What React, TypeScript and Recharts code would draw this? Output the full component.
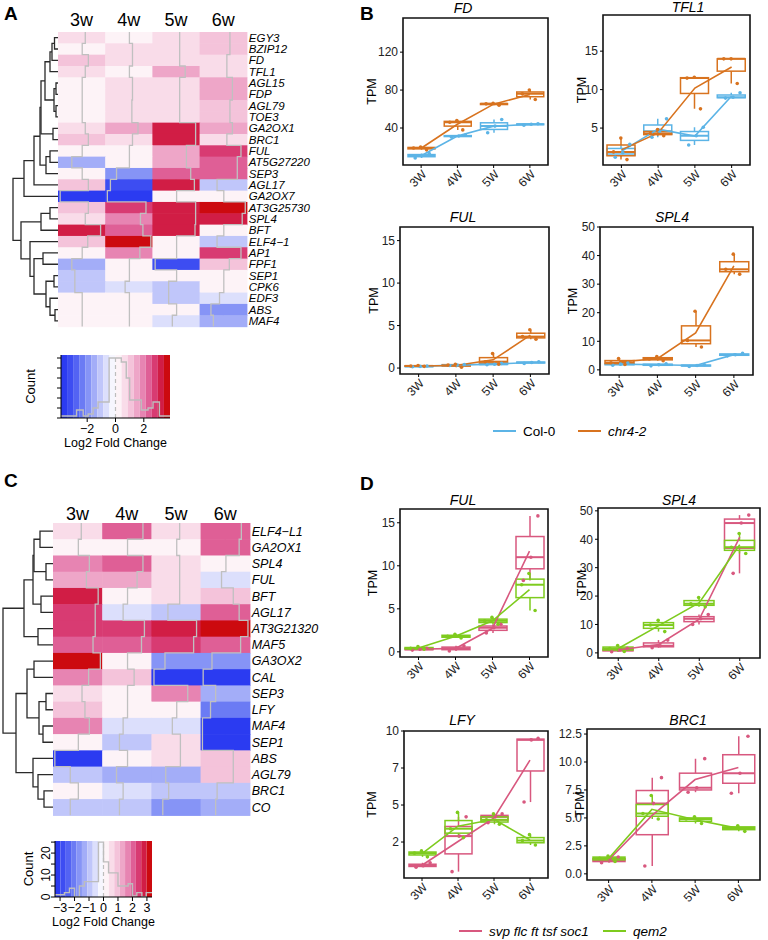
import React from 'react';
import {
  ComposedChart, ScatterChart, Scatter, Bar, Line, XAxis, YAxis, ReferenceLine, ReferenceArea,
} from 'recharts';

const WEEKS = ['3W', '4W', '5W', '6W'];
const HEAT_COLS = ['3w', '4w', '5w', '6w'];

// ---- panel A: chr4-2 vs Col-0, log2 fold change
const GENES_A = [
  'EGY3', 'BZIP12', 'FD', 'TFL1', 'AGL15', 'FDP', 'AGL79', 'TOE3', 'GA2OX1', 'BRC1',
  'FUL', 'AT5G27220', 'SEP3', 'AGL17', 'GA2OX7', 'AT3G25730', 'SPL4', 'BFT', 'ELF4\u22121',
  'AP1', 'FPF1', 'SEP1', 'CPK6', 'EDF3', 'ABS', 'MAF4',
];
const LFC_A = [
  [0.6, 0.1, 0.6, 1.1], [0.1, 0.6, 0.6, 1.1], [1.1, 0.6, 0.6, 0.6], [0.6, 0.1, 1.5, 0.6],
  [0.1, 0.6, 0.6, 1.5], [0.1, 0.6, 0.6, 1.5], [0.1, 0.5, 0.6, 1.1], [0.1, 0.5, 0.6, 1.1],
  [0.6, 1.5, 3.2, 1.5], [1.1, 0.6, 3.2, 0.6], [0.1, 0.1, 1.7, 2.9], [-1.6, 0.1, 1.7, 2.3],
  [0.1, -2.0, 2.4, 2.3], [1.1, -3.0, 3.0, -1.0], [-3.5, -3.5, 0.1, 0.1], [1.1, 2.8, 3.2, 3.6],
  [0.6, 1.9, 3.2, 3.1], [3.1, 2.3, 3.1, 0.1], [1.0, 3.6, 0.1, -1.0], [0.1, 1.8, 0.1, 2.9],
  [-1.6, 0.1, -3.4, 1.0], [-1.1, 0.1, 0.1, 0.1], [-1.1, -0.6, -1.2, 0.1], [0.1, 0.1, -1.2, -0.6],
  [0.1, 0.1, 0.1, -2.0], [0.1, 0.1, -0.6, -1.6],
];
// merges: [left, right, height]; strings are genes, numbers are earlier merges
const DEND_A: [string | number, string | number, number][] = [
  ['EGY3', 'BZIP12', 3.5], [0, 'FD', 6], [1, 'TFL1', 8], ['AGL15', 'FDP', 2], ['AGL79', 'TOE3', 2],
  [3, 4, 4], [2, 5, 13], ['GA2OX1', 'BRC1', 5], [6, 7, 17], ['FUL', 'AT5G27220', 8],
  [9, 'SEP3', 12], [8, 10, 18], [11, 'AGL17', 24], [12, 'GA2OX7', 34], ['AT3G25730', 'SPL4', 8],
  [14, 'BFT', 17], ['AP1', 'FPF1', 15], ['SEP1', 'CPK6', 4], ['ABS', 'MAF4', 3], ['EDF3', 18, 8],
  [17, 19, 12], [16, 20, 24], ['ELF4\u22121', 21, 28], [15, 22, 37], [13, 23, 45],
];
const HIST_A_EDGES = [-3.85, -2.75, -2.28, -1.93, -1.58, -1.23, -0.45, 0.41, 0.76, 1.0, 1.82, 2.3, 2.65, 3.1, 3.85];
const HIST_A_COUNTS = [1, 4, 1, 2, 5, 8, 30, 28, 20, 9, 4, 5, 8, 1];

// ---- panel C: svp flc ft tsf soc1 vs qem2
const GENES_C = [
  'ELF4\u2212L1', 'GA2OX1', 'SPL4', 'FUL', 'BFT', 'AGL17', 'AT3G21320', 'MAF5', 'GA3OX2',
  'CAL', 'SEP3', 'LFY', 'MAF4', 'SEP1', 'ABS', 'AGL79', 'BRC1', 'CO',
];
const LFC_C = [
  [0.5, 2.2, 0.5, 2.2], [0.1, 0.1, 0.1, 1.9], [1.6, 2.2, 0.5, 0.1], [1.2, 1.4, 0.5, -0.5],
  [2.8, 0.1, 0.5, 1.1], [2.4, -0.5, -1.1, 1.9], [2.4, 2.4, 2.8, 3.1], [2.1, 2.0, 2.4, 2.1],
  [3.1, 0.1, -1.5, -1.8], [1.5, 1.0, -3.0, -3.0], [0.6, 0.1, 1.6, -1.3], [1.0, 0.1, 0.1, -2.0],
  [1.6, -0.5, -0.5, -3.1], [0.1, -1.0, 0.6, -3.1], [-3.1, 0.1, 0.6, 1.1], [-1.0, -1.4, -1.4, 1.1],
  [0.1, -0.5, -1.0, -1.1], [-1.0, -1.0, -1.8, -1.3],
];
const DEND_C: [string | number, string | number, number][] = [
  ['ELF4\u2212L1', 'GA2OX1', 13], ['SPL4', 'FUL', 7], [0, 1, 19], ['BFT', 'AGL17', 12], [2, 3, 20],
  ['AT3G21320', 'MAF5', 15], [4, 5, 29], ['GA3OX2', 'CAL', 19], ['SEP3', 'LFY', 7], ['MAF4', 'SEP1', 10],
  [8, 9, 14], [7, 10, 26], ['BRC1', 'CO', 9], ['AGL79', 12, 15], ['ABS', 13, 20], [11, 14, 37], [6, 15, 50],
];
const HIST_C_EDGES = [-3.35, -3.05, -2.7, -2.35, -2.0, -1.66, -1.32, -0.35, 0, 0.35, 1.0, 1.4, 1.7, 2.0, 2.3, 2.65, 2.95, 3.35];
const HIST_C_COUNTS = [1, 1, 2, 4, 0, 5, 7, 25, 16, 11, 5, 5, 6, 0.5, 2, 0, 2];

// ---- panel B: TPM, three replicates per week
const B_FD_COL = [[8.5, 11, 13], [30.5, 31.5, 32.5], [35, 42, 49], [43, 44, 44.5]];
const B_FD_CHR = [[17, 19, 20], [38, 46, 48], [64, 65.5, 66], [70, 76, 80]];
const B_TFL1_COL = [[1.2, 1.8, 2.9], [3.8, 4.6, 6.2], [2.8, 4.0, 5.1], [8.9, 9.0, 9.6]];
const B_TFL1_CHR = [[0.9, 1.9, 3.7], [4.0, 4.3, 4.8], [7.5, 11.5, 11.6], [10.8, 14.0, 14.0]];
const B_FUL_COL = [[0.15, 0.2, 0.25], [0.3, 0.35, 0.4], [0.4, 0.45, 0.55], [0.55, 0.65, 0.75]];
const B_FUL_CHR = [[0.2, 0.25, 0.3], [0.1, 0.35, 0.45], [0.45, 0.75, 1.7], [3.4, 3.7, 4.5]];
const B_SPL4_COL = [[1.6, 2.0, 2.4], [1.4, 1.8, 2.1], [1.2, 1.5, 1.8], [4.9, 5.3, 5.8]];
const B_SPL4_CHR = [[1.9, 2.5, 4.0], [3.2, 3.8, 4.7], [8.0, 10.3, 20.5], [33.5, 35.2, 40.5]];

// ---- panel D
const D_FUL_SVP = [[0.2, 0.3, 0.4], [0.1, 0.4, 0.7], [2.2, 2.8, 3.2], [8.3, 11.0, 15.8]];
const D_FUL_QEM = [[0.3, 0.4, 0.6], [1.6, 1.8, 2.05], [3.2, 3.6, 4.0], [4.8, 7.8, 9.1]];
const D_SPL4_SVP = [[0.4, 1.0, 1.6], [1.8, 2.5, 4.5], [10.0, 12.0, 13.5], [28.0, 45.7, 48.5]];
const D_SPL4_QEM = [[0.5, 1.5, 2.6], [7.5, 9.8, 11.5], [16.2, 17.3, 19.5], [35.0, 37.2, 42.0]];
const D_LFY_SVP = [[0.8, 0.9, 1.1], [0.5, 2.9, 4.2], [3.8, 4.2, 4.4], [5.2, 9.4, 9.5]];
const D_LFY_QEM = [[1.5, 1.75, 1.9], [2.8, 3.4, 4.5], [3.7, 4.0, 4.4], [2.3, 2.6, 3.0]];
const D_BRC1_SVP = [[1.0, 1.2, 1.5], [0.7, 6.3, 8.6], [7.3, 7.7, 10.3], [7.2, 9.0, 12.3]];
const D_BRC1_QEM = [[1.1, 1.4, 1.6], [4.9, 5.4, 7.0], [4.5, 4.9, 5.1], [3.8, 4.1, 4.3]];

const KEY_COLORS = [
  '#2b3bf1', '#3d4df2', '#5363f3', '#6b7bf4', '#8694f6', '#a3adf8', '#c0c6fa', '#dcdffc', '#f6f6fe',
  '#fdf3f7', '#f9dce9', '#f4c3da', '#eea6c8', '#e784b2', '#df5f96', '#d83b72', '#d11d45', '#cc0a0f',
];
const COL0 = '#5cb4e6';
const CHR = '#d8731f';
const SVP = '#d8587f';
const QEM = '#7ecb1e';
const FONT = '"Liberation Sans", Arial, Helvetica, sans-serif';

const colorFor = (v: number, bmax: number) => {
  const i = Math.floor(((v + bmax) / (2 * bmax)) * KEY_COLORS.length);
  return KEY_COLORS[Math.max(0, Math.min(KEY_COLORS.length - 1, i))];
};

const quant = (s: number[], p: number) => {
  const h = (s.length - 1) * p;
  const lo = Math.floor(h);
  const hi = Math.min(lo + 1, s.length - 1);
  return s[lo] + (h - lo) * (s[hi] - s[lo]);
};

const boxStats = (pts: number[]) => {
  const s = [...pts].sort((a, b) => a - b);
  const q1 = quant(s, 0.25), md = quant(s, 0.5), q3 = quant(s, 0.75);
  const iqr = q3 - q1;
  const lo = Math.min(...s.filter((v) => v >= q1 - 1.5 * iqr));
  const hi = Math.max(...s.filter((v) => v <= q3 + 1.5 * iqr));
  return [lo, q1, md, q3, hi];
};

const mean = (a: number[]) => a.reduce((s, v) => s + v, 0) / a.length;

const buildDend = (merges: [string | number, string | number, number][], genes: string[]) => {
  const pos: { y: number; h: number }[] = [];
  const ref = (r: string | number) => (typeof r === 'string' ? { y: genes.indexOf(r), h: 0 } : pos[r]);
  return merges.map(([l, r, h], i) => {
    const a = ref(l), b = ref(r);
    pos[i] = { y: (a.y + b.y) / 2, h };
    return [{ x: a.h, y: a.y }, { x: h, y: a.y }, { x: h, y: b.y }, { x: b.h, y: b.y }];
  });
};

const noShape = () => <g />;

interface HeatProps {
  genes: string[];
  values: number[][];
  dend: [string | number, string | number, number][];
  bmax: number;
  left: number;
  top: number;
  cellW: number;
  cellH: number;
  headGap: number;
  labelSize: number;
}

const Heatmap = ({ genes, values, dend, bmax, left, top, cellW, cellH, headGap, labelSize }: HeatProps) => {
  const n = genes.length;
  const headH = 28;
  const labelW = 80;
  const padB = 10;
  const cells = values.flatMap((row, r) => row.map((v, c) => ({ x: c, y: r, v })));
  const traces = HEAT_COLS.map((_, c) =>
    values.flatMap((row, r) => {
      const tx = c - 0.5 + (row[c] + bmax) / (2 * bmax);
      return [{ x: tx, y: r - 0.5 }, { x: tx, y: r + 0.5 }];
    }),
  );
  const segs = buildDend(dend, genes);
  return (
    <>
      <div style={{ position: 'absolute', left: 0, top }}>
        <ScatterChart width={left} height={n * cellH} margin={{ top: 0, right: 0, bottom: 0, left: 0 }}>
          <XAxis type="number" dataKey="x" domain={[0, left]} reversed hide />
          <YAxis type="number" dataKey="y" domain={[-0.5, n - 0.5]} reversed hide />
          {segs.map((s, i) => (
            <Scatter key={i} data={s} line={{ stroke: '#2a2a2a', strokeWidth: 1.3 }} lineType="joint"
              shape={noShape} isAnimationActive={false} />
          ))}
        </ScatterChart>
      </div>
      <div style={{ position: 'absolute', left, top: top - headH }}>
        <ScatterChart width={4 * cellW + labelW} height={n * cellH + headH + padB}
          margin={{ top: 0, right: 0, bottom: padB, left: 0 }}>
          <XAxis type="number" dataKey="x" domain={[-0.5, 3.5]} orientation="top" ticks={[0, 1, 2, 3]}
            tickFormatter={(i: number) => HEAT_COLS[i]} height={headH} axisLine={false} tickLine={false}
            tickSize={0} tickMargin={headGap} interval={0} tick={{ fontSize: 18, fill: '#000' }} />
          <YAxis type="number" dataKey="y" domain={[-0.5, n - 0.5]} reversed orientation="right"
            ticks={genes.map((_, i) => i)} tickFormatter={(i: number) => genes[i]} width={labelW}
            interval={0} axisLine={false} tickLine={false} tickSize={0} tickMargin={2}
            tick={{ fontSize: labelSize, fontStyle: 'italic', fill: '#000' }} />
          <Scatter data={cells} isAnimationActive={false}
            shape={(p: any) => (
              <rect x={p.cx - cellW / 2} y={p.cy - cellH / 2} width={cellW + 0.6} height={cellH + 0.6}
                fill={colorFor(p.payload.v, bmax)} />
            )} />
          {HEAT_COLS.map((c, i) => (
            <ReferenceLine key={c} x={i} stroke="#c4c4c4" strokeWidth={1.2} strokeDasharray="4 3" />
          ))}
          {traces.map((t, i) => (
            <Scatter key={i} data={t} line={{ stroke: '#c0c0c0', strokeWidth: 1.3 }} lineType="joint"
              shape={noShape} isAnimationActive={false} />
          ))}
        </ScatterChart>
      </div>
    </>
  );
};

interface KeyProps {
  bmax: number;
  edges: number[];
  counts: number[];
  left: number;
  top: number;
  width: number;
  height: number;
  xTicks: number[];
  yMax: number;
  yTicks: number[];
  yLabels: Record<number, string>;
  countOffset: number;
}

const ColorKey = (k: KeyProps) => {
  const axisW = 45;
  const axisH = 32;
  const data = k.edges.map((e, i) => ({ x: e, c: k.counts[Math.min(i, k.counts.length - 1)] }));
  const binW = (2 * k.bmax) / KEY_COLORS.length;
  return (
    <div style={{ position: 'absolute', left: k.left - axisW, top: k.top - 4 }}>
      <ComposedChart width={k.width + axisW + 4} height={k.height + axisH + 8} data={data}
        margin={{ top: 4, right: 4, bottom: 4, left: 0 }}>
        <XAxis type="number" dataKey="x" domain={[-k.bmax, k.bmax]} ticks={k.xTicks} allowDataOverflow
          height={axisH} interval={0} tickSize={4} tickMargin={2} axisLine={{ stroke: '#000' }}
          tickLine={{ stroke: '#000' }} tick={{ fontSize: 12.5, fill: '#000' }}
          tickFormatter={(v: number) => (v < 0 ? `\u2212${-v}` : `${v}`)}
          label={{ value: 'Log2 Fold Change', position: 'insideBottom', offset: 3, style: { fontSize: 12.5, fill: '#000' } }} />
        <YAxis domain={[0, k.yMax]} ticks={k.yTicks} allowDataOverflow width={axisW} interval={0}
          tickSize={4} tickMargin={5} axisLine={{ stroke: '#000' }} tickLine={{ stroke: '#000' }}
          angle={-90} textAnchor="middle" tick={{ fontSize: 12, fill: '#000' }}
          tickFormatter={(v: number) => k.yLabels[v] ?? ''}
          label={{ value: 'Count', angle: -90, position: 'insideLeft', offset: k.countOffset, style: { textAnchor: 'middle', fontSize: 13, fill: '#000' } }} />
        {KEY_COLORS.map((c, i) => (
          <ReferenceArea key={c} x1={-k.bmax + i * binW} x2={-k.bmax + (i + 1) * binW} y1={0} y2={k.yMax}
            fill={c} fillOpacity={1} stroke="none" ifOverflow="visible" />
        ))}
        <ReferenceLine x={0} stroke="#bdbdbd" strokeWidth={1.2} strokeDasharray="4 3" />
        <Line type="stepAfter" dataKey="c" stroke="#bdbdbd" strokeWidth={1.4} dot={false} isAnimationActive={false} />
      </ComposedChart>
    </div>
  );
};

const JIT_A = [-0.22, 0.05, 0.3];
const JIT_B = [0.2, -0.28, -0.02];

const boxShape = (color: string, key: string) => (p: any) => {
  const [lo, q1, md, q3, hi] = p.payload[key];
  const k = hi > lo ? p.height / (hi - lo) : 0;
  const py = (v: number) => p.y + (hi - v) * k;
  const cx = p.x + p.width / 2;
  return (
    <g stroke={color} fill="none" strokeWidth={1.5}>
      <line x1={cx} x2={cx} y1={py(hi)} y2={py(q3)} />
      <line x1={cx} x2={cx} y1={py(q1)} y2={py(lo)} />
      <rect x={p.x} y={py(q3)} width={p.width} height={Math.max(py(q1) - py(q3), 0.5)} />
      <line x1={p.x} x2={p.x + p.width} y1={py(md)} y2={py(md)} strokeWidth={2} />
    </g>
  );
};

const dotShape = (color: string, off: number) => (p: any) =>
  p.cx == null ? <g /> : <circle cx={p.cx + off} cy={p.cy} r={1.8} fill={color} />;

interface BoxProps {
  title: string;
  a: number[][];
  b: number[][];
  colA: string;
  colB: string;
  x0: number; y0: number; x1: number; y1: number;
  domain: [number, number];
  ticks: number[];
  fmt?: (v: number) => string;
  tpmX: number;
  titleX: number;
  titleY: number;
}

const BoxPanel = (p: BoxProps) => {
  const rows = WEEKS.map((w, i) => {
    const sa = boxStats(p.a[i]), sb = boxStats(p.b[i]);
    return {
      week: w,
      aRange: [sa[0], sa[4]], aStats: sa, aMean: mean(p.a[i]),
      bRange: [sb[0], sb[4]], bStats: sb, bMean: mean(p.b[i]),
      a0: p.a[i][0], a1: p.a[i][1], a2: p.a[i][2],
      b0: p.b[i][0], b1: p.b[i][1], b2: p.b[i][2],
    };
  });
  const plotW = p.x1 - p.x0, plotH = p.y1 - p.y0;
  const band = plotW / 4;
  const bw = Math.round(band * 0.75);
  const axisW = 45;
  return (
    <>
      <div style={{ position: 'absolute', left: p.titleX, top: p.titleY, transform: 'translate(-50%, -50%)', fontStyle: 'italic', fontSize: 14, whiteSpace: 'nowrap' }}>
        {p.title}
      </div>
      <div style={{ position: 'absolute', left: p.x0 - axisW, top: p.y0 - 6 }}>
        <ComposedChart width={plotW + axisW + 3} height={plotH + 42} data={rows}
          margin={{ top: 6, right: 3, bottom: 0, left: 0 }} barSize={bw} barGap={-bw}>
          <XAxis dataKey="week" angle={-45} textAnchor="end" height={36} interval={0} tickSize={3}
            tickMargin={1} axisLine={false} tickLine={{ stroke: '#000' }} tick={{ fontSize: 12, fill: '#222' }} />
          <YAxis width={axisW} domain={p.domain} ticks={p.ticks} tickFormatter={p.fmt} allowDataOverflow
            interval={0} tickSize={3} tickMargin={2} axisLine={false} tickLine={{ stroke: '#000' }}
            tick={{ fontSize: 12, fill: '#222' }}
            label={{ value: 'TPM', angle: -90, position: 'insideLeft', offset: p.tpmX - (p.x0 - axisW), style: { textAnchor: 'middle', fontSize: 12.5, fill: '#000' } }} />
          <Bar dataKey="aRange" shape={boxShape(p.colA, 'aStats')} isAnimationActive={false} />
          <Bar dataKey="bRange" shape={boxShape(p.colB, 'bStats')} isAnimationActive={false} />
          {JIT_A.map((j, i) => (
            <Scatter key={`a${i}`} dataKey={`a${i}`} shape={dotShape(p.colA, j * bw)} isAnimationActive={false} />
          ))}
          {JIT_B.map((j, i) => (
            <Scatter key={`b${i}`} dataKey={`b${i}`} shape={dotShape(p.colB, j * bw)} isAnimationActive={false} />
          ))}
          <Line dataKey="aMean" stroke={p.colA} strokeWidth={1.6} dot={false} isAnimationActive={false} />
          <Line dataKey="bMean" stroke={p.colB} strokeWidth={1.6} dot={false} isAnimationActive={false} />
          <ReferenceArea y1={p.domain[0]} y2={p.domain[1]} fill="none" stroke="#111" strokeWidth={1.6} ifOverflow="visible" />
        </ComposedChart>
      </div>
    </>
  );
};

const LegendItem = ({ x, y, color, text, italic }: { x: number; y: number; color: string; text: string; italic?: boolean }) => (
  <div style={{ position: 'absolute', left: x, top: y - 9, height: 18, display: 'flex', alignItems: 'center', fontSize: 13.5, whiteSpace: 'nowrap' }}>
    <span style={{ display: 'inline-block', width: 23, height: 2, background: color, marginRight: 7 }} />
    <span style={{ fontStyle: italic ? 'italic' : 'normal' }}>{text}</span>
  </div>
);

const Letter = ({ x, y, t }: { x: number; y: number; t: string }) => (
  <div style={{ position: 'absolute', left: x, top: y, fontWeight: 'bold', fontSize: 19, lineHeight: '20px' }}>{t}</div>
);

const fmtTrunc = (v: number) => `${Math.trunc(v)}`;
const fmt1 = (v: number) => v.toFixed(1);

export default function App() {
  return (
    <div style={{ position: 'absolute', left: 0, top: 0, width: 768, height: 940, background: '#fff', fontFamily: FONT, color: '#000', overflow: 'hidden' }}>
      <Letter x={4} y={4} t="A" />
      <Letter x={360} y={4} t="B" />
      <Letter x={4} y={471} t="C" />
      <Letter x={360} y={474} t="D" />

      <Heatmap genes={GENES_A} values={LFC_A} dend={DEND_A} bmax={3.85} left={58} top={32.3}
        cellW={47.2} cellH={11.33} headGap={6} labelSize={11.5} />
      <ColorKey bmax={3.85} edges={HIST_A_EDGES} counts={HIST_A_COUNTS} left={61} top={355} width={109} height={63}
        xTicks={[-2, 0, 2]} yMax={31.5} yTicks={[0, 5, 10, 15, 20, 25, 30]} yLabels={{}} countOffset={14} />

      <Heatmap genes={GENES_C} values={LFC_C} dend={DEND_C} bmax={3.35} left={53} top={522.5}
        cellW={49.2} cellH={16.24} headGap={3} labelSize={12.5} />
      <ColorKey bmax={3.35} edges={HIST_C_EDGES} counts={HIST_C_COUNTS} left={55} top={841} width={97} height={56}
        xTicks={[-3, -2, -1, 0, 1, 2, 3]} yMax={25.5} yTicks={[0, 5, 10, 15, 20, 25]}
        yLabels={{ 0: '0', 10: '10', 20: '20' }} countOffset={18} />

      <BoxPanel title="FD" a={B_FD_COL} b={B_FD_CHR} colA={COL0} colB={CHR} x0={403} y0={18} x1={548} y1={165}
        domain={[1, 156]} ticks={[40, 80, 120]} tpmX={372} titleX={463} titleY={8} />
      <BoxPanel title="TFL1" a={B_TFL1_COL} b={B_TFL1_CHR} colA={COL0} colB={CHR} x0={603} y0={15} x1={750} y1={165}
        domain={[0.2, 19.7]} ticks={[5, 10, 15]} tpmX={582} titleX={688} titleY={7} />
      <BoxPanel title="FUL" a={B_FUL_COL} b={B_FUL_CHR} colA={COL0} colB={CHR} x0={400} y0={227} x1={549} y1={374}
        domain={[-0.7, 16.6]} ticks={[0, 5, 10, 15]} tpmX={374} titleX={463} titleY={217} />
      <BoxPanel title="SPL4" a={B_SPL4_COL} b={B_SPL4_CHR} colA={COL0} colB={CHR} x0={600} y0={227} x1={753} y1={375}
        domain={[-1.8, 50]} ticks={[0, 10, 20, 30, 40, 50]} tpmX={573} titleX={672} titleY={217} />
      <LegendItem x={493} y={431} color={COL0} text="Col-0" />
      <LegendItem x={578} y={431} color={CHR} text="chr4-2" italic />

      <BoxPanel title="FUL" a={D_FUL_SVP} b={D_FUL_QEM} colA={SVP} colB={QEM} x0={400} y0={509} x1={548} y1={657}
        domain={[-0.6, 16.6]} ticks={[0, 5, 10, 15]} tpmX={373} titleX={463} titleY={500} />
      <BoxPanel title="SPL4" a={D_SPL4_SVP} b={D_SPL4_QEM} colA={SVP} colB={QEM} x0={598} y0={508} x1={760} y1={658}
        domain={[-1.8, 51]} ticks={[0, 10, 20, 30, 40, 50]} tpmX={582} titleX={679} titleY={500} />
      <BoxPanel title="LFY" a={D_LFY_SVP} b={D_LFY_QEM} colA={SVP} colB={QEM} x0={404} y0={731} x1={548} y1={878}
        domain={[0.07, 10.0]} ticks={[2.5, 5, 7.5, 10]} fmt={fmtTrunc} tpmX={372} titleX={462} titleY={720} />
      <BoxPanel title="BRC1" a={D_BRC1_SVP} b={D_BRC1_QEM} colA={SVP} colB={QEM} x0={587} y0={729} x1={760} y1={880}
        domain={[-0.55, 12.95]} ticks={[0, 2.5, 5, 7.5, 10, 12.5]} fmt={fmt1} tpmX={580} titleX={688} titleY={720} />
      <LegendItem x={459} y={931} color={SVP} text="svp flc ft tsf soc1" italic />
      <LegendItem x={603} y={931} color={QEM} text="qem2" italic />
    </div>
  );
}
